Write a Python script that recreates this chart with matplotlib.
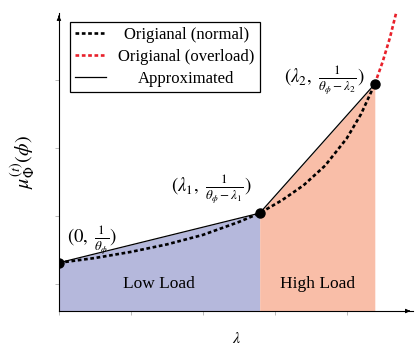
import matplotlib
matplotlib.use('Agg')
import matplotlib.pyplot as plt

plt.rcParams['font.family'] = 'Liberation Serif'
plt.rcParams['mathtext.fontset'] = 'stix'

# values (x in tick units, y in tick units)
lam_normal = [0, 0.5, 1.0, 1.5, 2.0, 2.5, 2.79, 3.1, 3.4, 3.7, 4.0, 4.2, 4.39]
mu_normal = [1.31, 1.38, 1.47, 1.58, 1.72, 1.91, 2.04, 2.23, 2.45, 2.74, 3.14, 3.50, 3.94]
lam_over = [4.39, 4.5, 4.6, 4.69]
mu_over = [3.94, 4.27, 4.62, 5.00]
lam_pts = [0, 2.79, 4.39]
mu_pts = [1.31, 2.04, 3.94]
pt_labels = [r'$(0,\ \frac{1}{\theta_\phi})$',
             r'$(\lambda_1,\ \frac{1}{\theta_\phi-\lambda_1})$',
             r'$(\lambda_2,\ \frac{1}{\theta_\phi-\lambda_2})$']
region_names = ['Low Load', 'High Load']
x_ticks = [0, 1, 2, 3, 4]
y_ticks = [1, 2, 3, 4]

fig = plt.figure(figsize=(4.15, 3.47), dpi=100)
ax = fig.add_axes([0.142, 0.1037, 0.853, 0.8588])
ax.set_xlim(0, 4.92)
ax.set_ylim(0.6, 4.985)
ybot = ax.get_ylim()[0]

# shaded regions under the approximation
ax.fill_between(lam_pts[0:2], mu_pts[0:2], ybot, color='#b5b8dc', lw=0, zorder=1)
ax.fill_between(lam_pts[1:3], mu_pts[1:3], ybot, color='#f9bea8', lw=0, zorder=1)

ax.plot(lam_normal, mu_normal, color='k', lw=1.9, ls=(0, (1.4, 1.0)),
        label='Origianal (normal)', zorder=3)
ax.plot(lam_over, mu_over, color='#e8202a', lw=1.9, ls=(0, (1.4, 1.0)),
        label='Origianal (overload)', zorder=3, clip_on=False)
ax.plot(lam_pts, mu_pts, color='k', lw=0.9, label='Approximated', zorder=2)
ax.plot(lam_pts, mu_pts, 'o', color='k', ms=6.5, zorder=4)

offsets = [(6, 16, 'left'), (-6, 17, 'right'), (-7, 3, 'right')]
for (x, y), s, (dx, dy, ha) in zip(zip(lam_pts, mu_pts), pt_labels, offsets):
    ax.annotate(s, (x, y), xytext=(dx, dy), textcoords='offset points',
                ha=ha, va='center', fontsize=13.5)

ax.text((lam_pts[0] + lam_pts[1]) / 2, 1, region_names[0], ha='center', va='center', fontsize=12.5)
ax.text((lam_pts[1] + lam_pts[2]) / 2, 1, region_names[1], ha='center', va='center', fontsize=12.5)

# axis styling: only left/bottom lines with arrows, grey ticks, no labels
for sp in ['top', 'right']:
    ax.spines[sp].set_visible(False)
for sp in ['left', 'bottom']:
    ax.spines[sp].set_linewidth(0.8)
ax.set_xticks(x_ticks)
ax.set_yticks(y_ticks)
ax.tick_params(labelbottom=False, labelleft=False, color='#b0b0b0',
               length=3, width=0.6, direction='out')
ax.annotate('', xy=(1, 0), xytext=(0.98, 0), xycoords='axes fraction',
            arrowprops=dict(arrowstyle='-|>', color='k', lw=0.8, mutation_scale=6))
ax.annotate('', xy=(0, 1), xytext=(0, 0.98), xycoords='axes fraction',
            arrowprops=dict(arrowstyle='-|>', color='k', lw=0.8, mutation_scale=6))

ax.set_xlabel(r'$\lambda$', fontsize=11.5)
ax.xaxis.set_label_coords(0.503, -0.068)
ax.set_ylabel(r'$\mu_{\Phi}^{(t)}(\phi)$', fontsize=14.5)
ax.yaxis.set_label_coords(-0.06, 0.5)

leg = ax.legend(loc='upper left', bbox_to_anchor=(70 / 415, 1 - 22 / 347),
                bbox_transform=fig.transFigure, borderaxespad=0, fancybox=False,
                edgecolor='k', framealpha=1, fontsize=12, handlelength=1.85,
                handletextpad=0.75, labelspacing=0.35, borderpad=0.3)
leg.get_frame().set_linewidth(0.9)

# centre the legend entries in their column like the original
fig.canvas.draw()
r = fig.canvas.get_renderer()
widths = [t.get_window_extent(r).width for t in leg.get_texts()]
wmax = max(widths)
for t, w in zip(leg.get_texts(), widths):
    t.set_x((wmax - w) / 2)

fig.savefig('out.png', dpi=100)
